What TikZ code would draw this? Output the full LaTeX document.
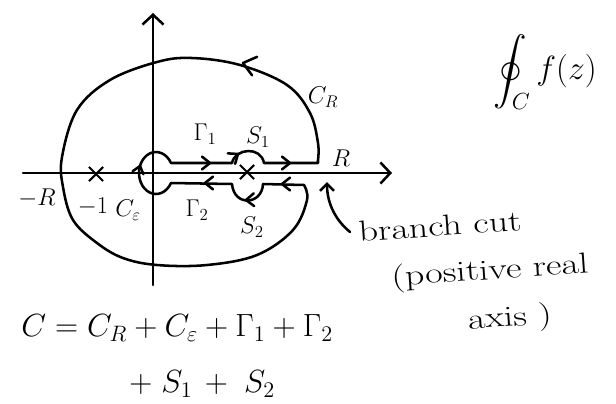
\documentclass[tikz,border=0pt]{standalone}
\usepackage{amsmath}
\usepackage{amssymb}
\usetikzlibrary{arrows.meta,shapes.misc}

\tikzset{
  pen/.style={line width=1.8pt, line cap=round, line join=round},
  axisarrow/.style={pen, -{Straight Barb[length=7pt, width=15pt, line width=1.8pt]}},
  lbl/.style={font=\LARGE},
  note/.style={font=\huge},
  hand/.style={note, rotate=4, xscale=1.3, inner sep=0pt},
  xmark/.style={cross out, draw, line width=1.5pt, minimum size=0.3cm, inner sep=0pt},
}
% open chevron: tip x, tip y, direction, size
\newcommand{\chev}[4]{\draw[pen, rotate around={#3:(#1,#2)}] (#1-#4,#2-0.8*#4) -- (#1,#2) -- (#1-#4,#2+0.8*#4);}

\begin{document}
\begin{tikzpicture}[x=0.025cm, y=-0.025cm]
\useasboundingbox (0,0) rectangle (616,403);
% axes
\draw[axisarrow] (23,173) -- (392,173);
\draw[axisarrow] (153,285) -- (153,13);
% keyhole contour
\draw[pen] (171,163) -- (232,163)
  .. controls (235,148) and (261,146) .. (264,163)
  -- (318,163)
  -- plot[smooth, tension=0.6] coordinates {(318,160) (318,143) (310,113) (287,85) (240,65) (192,58) (157,62) (110,80) (77,110) (62,157) (63,187) (73,220) (97,243) (123,258) (157,265) (207,265) (257,255) (293,230) (307,200) (304,185)}
  -- (263,184)
  .. controls (262,205) and (234,207) .. (232,184)
  -- (171,183)
  -- plot[domain=28.4:331.6, smooth, samples=30] ({156+17*cos(\x)},{173+21*sin(\x)})
  -- cycle;
% direction marks
\chev{210}{163}{0}{8}
\chev{238}{154}{35}{8}
\chev{290}{163}{0}{8}
\chev{243}{63}{165}{12}
\chev{282}{184}{180}{8}
\chev{246}{200}{182}{8}
\chev{205}{183}{180}{8}
\chev{140}{166}{74}{7}
% points
\node[xmark] (mone) at (96,174) {};
\node[xmark] (pole) at (247,172) {};
% labels
\node[lbl] (gam1) at (205,134) {$\Gamma_1$};
\node[lbl] (s1) at (258,137) {$S_1$};
\node[lbl] (rr) at (341,158) {$R$};
\node[lbl] (cr) at (323,97) {$C_R$};
\node[lbl] (mr) at (37,198) {$-R$};
\node[lbl] (m1) at (93,207) {$-1$};
\node[lbl] (ceps) at (128,210) {$C_\varepsilon$};
\node[lbl] (gam2) at (197,210) {$\Gamma_2$};
\node[lbl] (s2) at (252,227) {$S_2$};
\node[note, scale=1.15, inner sep=0pt] (intg) at (545,72) {$\displaystyle\oint_C f(z)$};
% branch cut
\node[hand] (cut) at (440,226) {branch cut};
\node[hand] (pos) at (490,272) {(positive real};
\node[hand] (ax) at (510,319) {axis )};
\coordinate (cuttail) at (350,232);
\coordinate (cuttip) at (327,182);
\draw[pen, -{Straight Barb[length=5pt, width=10pt, line width=1.8pt]}] (cuttail) .. controls (333,218) and (327,200) .. (cuttip);
% sum
\node[note, anchor=west, scale=1.1] (eq1) at (16,328) {$C=C_R+C_\varepsilon+\Gamma_1+\Gamma_2$};
\node[note, anchor=west, scale=1.1] (eq2) at (124,384) {$+\;S_1\,+\;S_2$};
\end{tikzpicture}
\end{document}
